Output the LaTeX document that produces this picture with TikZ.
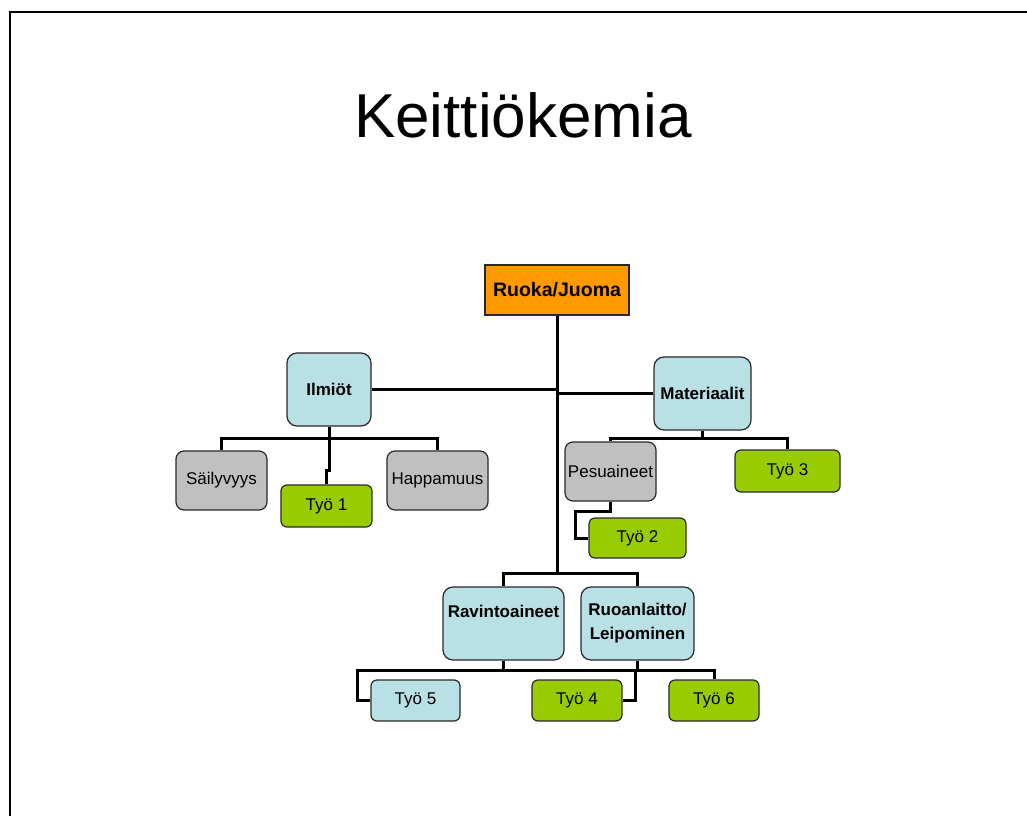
\documentclass[tikz,border=0pt]{standalone}
\usepackage{fontspec}
\setmainfont{Liberation Sans}
\usepackage{tikz}
\usetikzlibrary{positioning, calc}
\definecolor{tikzorange}{RGB}{255, 153, 0}
\definecolor{tikzblue}{RGB}{185, 224, 228}
\definecolor{tikzgray}{RGB}{192, 192, 192}
\definecolor{tikzgreen}{RGB}{153, 204, 0}
\definecolor{tikzedge}{RGB}{40, 40, 40}

\begin{document}
\begin{tikzpicture}[
  x=1pt, y=-1pt,
  box_orange/.style={rectangle, inner sep=0pt, align=center, font=\fontsize{19.5}{22}\selectfont\bfseries, draw=tikzedge, line width=1.2pt, fill=tikzorange, text=black},
  box_blue/.style={rectangle, rounded corners=10pt, inner sep=0pt, align=center, font=\fontsize{17}{24}\selectfont\bfseries, draw=tikzedge, line width=1.2pt, fill=tikzblue, text=black},
  box_gray/.style={rectangle, rounded corners=8pt, inner sep=0pt, align=center, font=\fontsize{17}{20}\selectfont, draw=tikzedge, line width=1.2pt, fill=tikzgray, text=black},
  box_green/.style={rectangle, rounded corners=6pt, inner sep=0pt, align=center, font=\fontsize{17}{20}\selectfont, draw=tikzedge, line width=1.2pt, fill=tikzgreen, text=black},
  box_small/.style={rectangle, rounded corners=6pt, inner sep=0pt, align=center, font=\fontsize{17}{20}\selectfont, draw=tikzedge, line width=1.2pt, fill=tikzblue, text=black},
  conn/.style={line width=3pt, color=black}
]
\useasboundingbox (0,0) rectangle (1027,816);

% Slide frame and title
\draw[line width=2pt] (10,816) -- (10,12) -- (1027,12);
\node[font=\fontsize{62}{70}\selectfont] (title) at (523,115) {Keittiökemia};

% Top level
\node[box_orange, minimum width=144pt, minimum height=50pt] (ruoka) at (557,290) {Ruoka/Juoma};

% Second level
\node[box_blue, minimum width=84pt, minimum height=73pt] (ilmiot) at (329,389.5) {Ilmiöt};
\node[box_blue, minimum width=97pt, minimum height=73pt] (materiaalit) at (702.5,393.5) {Materiaalit};
\node[box_blue, minimum width=121pt, minimum height=73pt] (ravinto) at (503.5,623.5) {Ravintoaineet\\~};
\node[box_blue, minimum width=113pt, minimum height=73pt] (ruoanlaitto) at (637.5,623.5) {Ruoanlaitto/\\Leipominen};

% Ilmiöt branch
\node[box_gray, minimum width=91pt, minimum height=59pt] (sailyvyys) at (221.5,480.5) {Säilyvyys};
\node[box_green, minimum width=91pt, minimum height=42pt] (tyo1) at (326.5,506) {Työ 1};
\node[box_gray, minimum width=101pt, minimum height=59pt] (happamuus) at (437.5,480.5) {Happamuus};

% Materiaalit branch
\node[box_gray, minimum width=91pt, minimum height=59pt] (pesuaineet) at (610.5,471.5) {Pesuaineet};
\node[box_green, minimum width=97pt, minimum height=40pt] (tyo2) at (637.5,538) {Työ 2};
\node[box_green, minimum width=105pt, minimum height=42pt] (tyo3) at (787.5,471) {Työ 3};

% Bottom branch
\node[box_small, minimum width=89pt, minimum height=41pt] (tyo5) at (415.5,700.5) {Työ 5};
\node[box_green, minimum width=90pt, minimum height=41pt] (tyo4) at (577,700.5) {Työ 4};
\node[box_green, minimum width=90pt, minimum height=41pt] (tyo6) at (714,700.5) {Työ 6};

\coordinate (split) at (557,573);

% Edges - Trunk
\draw[conn] (ruoka.south) -- (split);
\draw[conn] (ilmiot.east) -- (ilmiot.east -| ruoka.south);
\draw[conn] (materiaalit.west) -- (materiaalit.west -| ruoka.south);
\draw[conn] (split) -| (ravinto.north);
\draw[conn] (split) -| (ruoanlaitto.north);

% Edges - Ilmiöt
\draw[conn] (ilmiot.south) -- ++(0,12) -| (sailyvyys.north);
\draw[conn] (ilmiot.south) -- ++(0,12) -| (happamuus.north);
\draw[conn] (ilmiot.south) -- ++(0,44) -| (tyo1.north);

% Edges - Materiaalit
\draw[conn] (materiaalit.south) -- ++(0,8) -| (pesuaineet.north);
\draw[conn] (materiaalit.south) -- ++(0,8) -| (tyo3.north);
\draw[conn] (pesuaineet.south) -- ++(0,10) -| ([xshift=-13pt]tyo2.west) -- (tyo2.west);

% Edges - Bottom
\draw[conn] (ravinto.south) -- ++(0,10) -| ([xshift=-13pt]tyo5.west) -- (tyo5.west);
\draw[conn] (ravinto.south) -- ++(0,10) -| ([xshift=13pt]tyo4.east) -- (tyo4.east);
\draw[conn] (ruoanlaitto.south) -- ++(0,10) -| (tyo6.north);

\end{tikzpicture}
\end{document}
